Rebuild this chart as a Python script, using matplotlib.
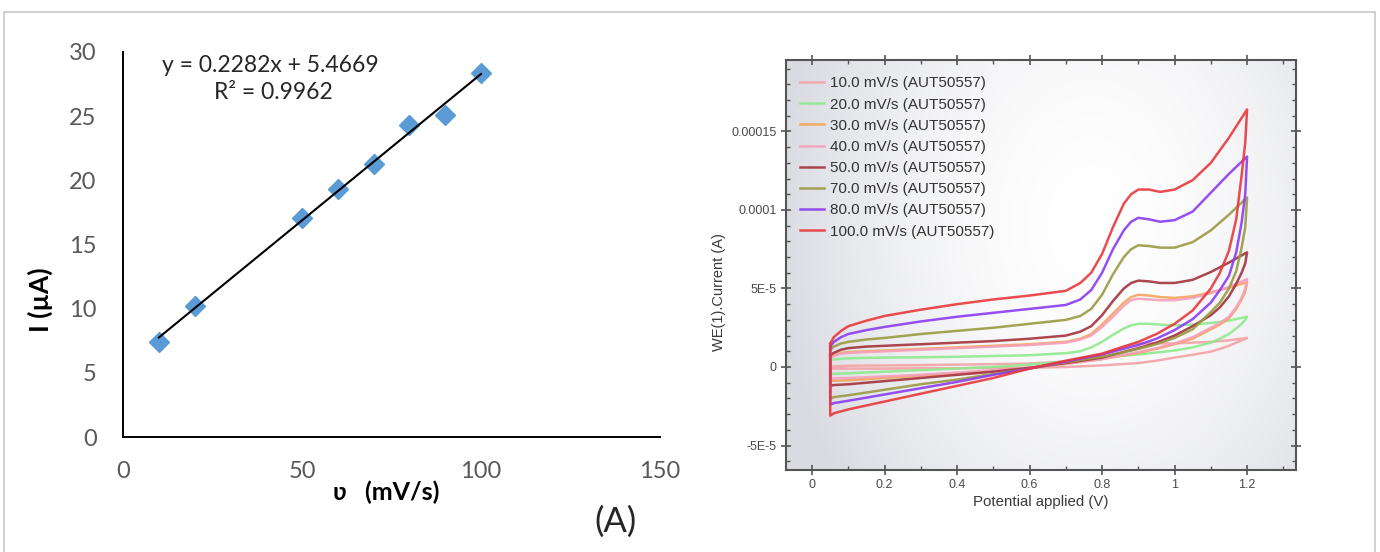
import numpy as np
import matplotlib
matplotlib.use("Agg")
import matplotlib.pyplot as plt
from matplotlib.patches import Rectangle
from matplotlib.ticker import MultipleLocator

# ----- Panel A: peak current vs scan rate -----
scan_rate = [10, 20, 50, 60, 70, 80, 90, 100]          # mV/s
peak_current = [7.4, 10.2, 17.1, 19.3, 21.3, 24.3, 25.1, 28.4]  # uA
fit_slope = 0.2282
fit_intercept = 5.4669
fit_r2 = 0.9962

# ----- Panel B: cyclic voltammograms (current in units of 1e-5 A) -----
cv_labels = ["10.0 mV/s (AUT50557)", "20.0 mV/s (AUT50557)", "30.0 mV/s (AUT50557)",
             "40.0 mV/s (AUT50557)", "50.0 mV/s (AUT50557)", "70.0 mV/s (AUT50557)",
             "80.0 mV/s (AUT50557)", "100.0 mV/s (AUT50557)"]
cv_colors = ["#f4a3a8", "#8eea8e", "#f4a55c", "#f5a0bc", "#a3323c",
             "#9a9a42", "#8a3cf2", "#e8383c"]

v_fwd = [0.05, 0.06, 0.08, 0.1, 0.15, 0.2, 0.3, 0.4, 0.5, 0.6, 0.7, 0.74, 0.77,
         0.8, 0.83, 0.86, 0.88, 0.9, 0.93, 0.96, 1.0, 1.05, 1.1, 1.15, 1.2]
v_rev = [1.2, 1.195, 1.185, 1.17, 1.15, 1.125, 1.1, 1.05, 1.0, 0.95, 0.9, 0.8,
         0.7, 0.6, 0.5, 0.4, 0.3, 0.2, 0.1, 0.06, 0.05]

i_fwd_10 = [0.0, 0.03, 0.06, 0.08, 0.09, 0.1, 0.12, 0.15, 0.18, 0.22, 0.35, 0.45, 0.6,
            0.8, 1.05, 1.3, 1.42, 1.5, 1.52, 1.5, 1.5, 1.55, 1.6, 1.7, 1.85]
i_rev_10 = [1.85, 1.8, 1.7, 1.55, 1.35, 1.15, 0.98, 0.78, 0.6, 0.4, 0.25, 0.1,
            0.0, -0.05, -0.05, -0.08, -0.08, -0.1, -0.1, -0.1, -0.1]
i_fwd_20 = [0.45, 0.48, 0.52, 0.55, 0.58, 0.6, 0.62, 0.65, 0.7, 0.75, 0.88, 1.0, 1.25,
            1.6, 2.05, 2.45, 2.65, 2.75, 2.75, 2.7, 2.65, 2.7, 2.8, 2.95, 3.2]
i_rev_20 = [3.2, 3.0, 2.75, 2.45, 2.1, 1.8, 1.55, 1.25, 1.05, 0.92, 0.8, 0.6,
            0.35, 0.15, 0.0, -0.1, -0.2, -0.3, -0.4, -0.43, -0.45]
i_fwd_30 = [0.65, 0.75, 0.9, 0.95, 1.0, 1.05, 1.15, 1.25, 1.35, 1.45, 1.6, 1.8, 2.1,
            2.7, 3.4, 4.1, 4.45, 4.6, 4.55, 4.45, 4.4, 4.5, 4.75, 5.05, 5.4]
i_rev_30 = [5.4, 4.8, 4.3, 3.7, 3.1, 2.7, 2.4, 1.8, 1.45, 1.15, 0.9, 0.5,
            0.2, -0.05, -0.25, -0.4, -0.55, -0.7, -0.85, -0.88, -0.9]
i_fwd_40 = [0.6, 0.7, 0.85, 0.9, 0.95, 1.0, 1.1, 1.2, 1.3, 1.4, 1.55, 1.75, 2.0,
            2.55, 3.2, 3.9, 4.25, 4.35, 4.3, 4.25, 4.25, 4.4, 4.7, 5.1, 5.6]
i_rev_40 = [5.6, 5.0, 4.4, 3.8, 3.2, 2.8, 2.5, 1.9, 1.5, 1.2, 0.95, 0.5,
            0.2, -0.05, -0.2, -0.35, -0.5, -0.6, -0.7, -0.73, -0.75]
i_fwd_50 = [0.75, 0.9, 1.1, 1.2, 1.3, 1.35, 1.45, 1.55, 1.65, 1.8, 2.0, 2.25, 2.6,
            3.3, 4.2, 5.0, 5.35, 5.5, 5.45, 5.35, 5.35, 5.55, 6.05, 6.65, 7.3]
i_rev_50 = [7.3, 6.6, 6.0, 5.3, 4.5, 3.8, 3.3, 2.6, 2.0, 1.55, 1.2, 0.6,
            0.25, -0.05, -0.3, -0.5, -0.7, -0.9, -1.1, -1.15, -1.2]
i_fwd_70 = [1.1, 1.3, 1.5, 1.6, 1.75, 1.85, 2.1, 2.3, 2.5, 2.75, 3.0, 3.25, 3.7,
            4.6, 5.9, 7.0, 7.5, 7.75, 7.7, 7.6, 7.6, 7.95, 8.7, 9.7, 10.8]
i_rev_70 = [10.8, 8.9, 7.6, 6.1, 5.0, 4.1, 3.5, 2.4, 1.85, 1.45, 1.15, 0.65,
            0.3, -0.1, -0.45, -0.8, -1.1, -1.45, -1.8, -1.92, -2.0]
i_fwd_80 = [1.3, 1.6, 1.9, 2.1, 2.35, 2.55, 2.9, 3.2, 3.45, 3.7, 3.95, 4.3, 4.9,
            6.0, 7.5, 8.7, 9.25, 9.5, 9.4, 9.25, 9.35, 9.9, 11.1, 12.3, 13.4]
i_rev_80 = [13.4, 11.0, 9.2, 7.3, 5.8, 4.9, 4.1, 3.05, 2.35, 1.8, 1.4, 0.8,
            0.35, -0.1, -0.5, -0.95, -1.35, -1.75, -2.15, -2.3, -2.4]
i_fwd_100 = [1.5, 1.9, 2.3, 2.6, 2.95, 3.25, 3.65, 4.0, 4.3, 4.55, 4.85, 5.35, 6.0,
             7.2, 8.9, 10.4, 11.0, 11.3, 11.3, 11.15, 11.3, 11.9, 13.0, 14.6, 16.4]
i_rev_100 = [16.4, 14.3, 12.2, 9.4, 7.4, 6.0, 5.0, 3.6, 2.75, 2.1, 1.6, 0.85,
             0.4, -0.1, -0.7, -1.2, -1.7, -2.2, -2.7, -2.95, -3.1]

cv_fwd = [i_fwd_10, i_fwd_20, i_fwd_30, i_fwd_40, i_fwd_50, i_fwd_70, i_fwd_80, i_fwd_100]
cv_rev = [i_rev_10, i_rev_20, i_rev_30, i_rev_40, i_rev_50, i_rev_70, i_rev_80, i_rev_100]

y_ticks = [-5e-5, 0, 5e-5, 1e-4, 1.5e-4]
y_ticklabels = ["-5E-5", "0", "5E-5", "0.0001", "0.00015"]
x_ticks = [0, 0.2, 0.4, 0.6, 0.8, 1.0, 1.2]
x_ticklabels = ["0", "0.2", "0.4", "0.6", "0.8", "1", "1.2"]

fig = plt.figure(figsize=(13.8, 5.52), dpi=100)

# outer frame of the figure
fig.patches.append(Rectangle((4 / 1380, -0.01), 1371 / 1380, 1 - 12 / 552 + 0.01,
                             transform=fig.transFigure, fill=False,
                             edgecolor="#c8c8c8", lw=1.2))

# ---------- left panel ----------
axA = fig.add_axes([123 / 1380, 1 - 437 / 552, 537 / 1380, 385 / 552])
axA.plot(scan_rate, peak_current, linestyle="none", marker="D", ms=10,
         color="#5b9bd5", zorder=3)
fit_x = np.array([scan_rate[0], scan_rate[-1]])
axA.plot(fit_x, fit_slope * fit_x + fit_intercept, color="black", lw=1.5, zorder=4)
axA.set_xlim(0, 150)
axA.set_ylim(0, 30)
axA.set_xticks([0, 50, 100, 150])
axA.set_yticks([0, 5, 10, 15, 20, 25, 30])
for s in ["top", "right"]:
    axA.spines[s].set_visible(False)
for s in ["left", "bottom"]:
    axA.spines[s].set_linewidth(1.4)
axA.tick_params(axis="both", length=0, labelsize=17, labelcolor="#595959")
axA.tick_params(axis="x", pad=17)
axA.tick_params(axis="y", pad=19)
for lab in axA.get_xticklabels() + axA.get_yticklabels():
    lab.set_family("Lato")
axA.text(0.275, 0.965, f"y = {fit_slope}x + {fit_intercept}", transform=axA.transAxes,
         ha="center", va="center", fontsize=16.5, family="Lato", color="#262626")
axA.text(0.28, 0.895, f"R\u00b2 = {fit_r2}", transform=axA.transAxes,
         ha="center", va="center", fontsize=16.5, family="Lato", color="#262626")
fig.text(40 / 1380, 1 - 300 / 552, "I (\u00b5A)", rotation=90, ha="center", va="center",
         fontsize=19, fontweight="bold", family="Lato")
fig.text(386 / 1380, 1 - 492 / 552, "\u028b   (mV/s)", ha="center", va="center",
         fontsize=18, fontweight="bold", family="Lato")
fig.text(616 / 1380, 1 - 522 / 552, "(A)", ha="center", va="center",
         fontsize=25, family="Lato", color="#262626")

# ---------- right panel ----------
axB = fig.add_axes([786 / 1380, 1 - 470 / 552, 510 / 1380, 410 / 552])
xlim = (-0.072, 1.335)
ylim = (-6.56e-5, 1.955e-4)

# radial light background
gx = np.linspace(0, 1, 300)
gy = np.linspace(0, 1, 300)
GX, GY = np.meshgrid(gx, gy)
r = np.sqrt(((GX - 0.6) / 0.62) ** 2 + ((GY - 0.6) / 1.05) ** 2)
t = np.clip(r, 0, 1) ** 1.8
edge = np.array([0.855, 0.86, 0.885])
img = (1 - t)[..., None] * np.ones(3) + t[..., None] * edge
axB.imshow(img, extent=[xlim[0], xlim[1], ylim[0], ylim[1]], origin="lower",
           aspect="auto", zorder=0, interpolation="bilinear")

for lab, col, fw, rv in zip(cv_labels, cv_colors, cv_fwd, cv_rev):
    v = np.concatenate([v_fwd, v_rev, [v_fwd[0]]])
    i = np.concatenate([fw, rv, [fw[0]]]) * 1e-5
    axB.plot(v, i, color=col, lw=1.8, alpha=0.9, label=lab, zorder=2,
             solid_joinstyle="round")

axB.set_xlim(*xlim)
axB.set_ylim(*ylim)
axB.set_xticks(x_ticks)
axB.set_xticklabels(x_ticklabels)
axB.set_yticks(y_ticks)
axB.set_yticklabels(y_ticklabels)
axB.xaxis.set_minor_locator(MultipleLocator(0.1))
axB.yaxis.set_minor_locator(MultipleLocator(1e-5))
for s in axB.spines.values():
    s.set_color("#555555")
    s.set_linewidth(1.5)
axB.tick_params(which="major", direction="inout", length=7, width=1.2, color="#555555",
                top=True, right=True, labelsize=9, labelcolor="#4a4a4a", pad=3)
axB.tick_params(which="minor", direction="in", length=3, width=1, color="#555555",
                top=True, right=True)
for lab in axB.get_xticklabels() + axB.get_yticklabels():
    lab.set_family("Liberation Sans")
axB.set_xlabel("Potential applied (V)", fontsize=10.8, color="#3a3a3a",
               family="Liberation Sans", labelpad=3)
axB.set_ylabel("WE(1).Current (A)", fontsize=10.5, color="#3a3a3a",
               family="Liberation Sans")
axB.yaxis.set_label_coords(-0.118, 0.434)
leg = axB.legend(loc="upper left", bbox_to_anchor=(0.027, 0.96), frameon=False,
                 borderpad=0, borderaxespad=0, handlelength=1.6, handletextpad=0.35,
                 labelspacing=0.47, prop={"family": "Liberation Sans", "size": 11})
for txt in leg.get_texts():
    txt.set_color("#333333")

fig.savefig("out.png", dpi=100)
